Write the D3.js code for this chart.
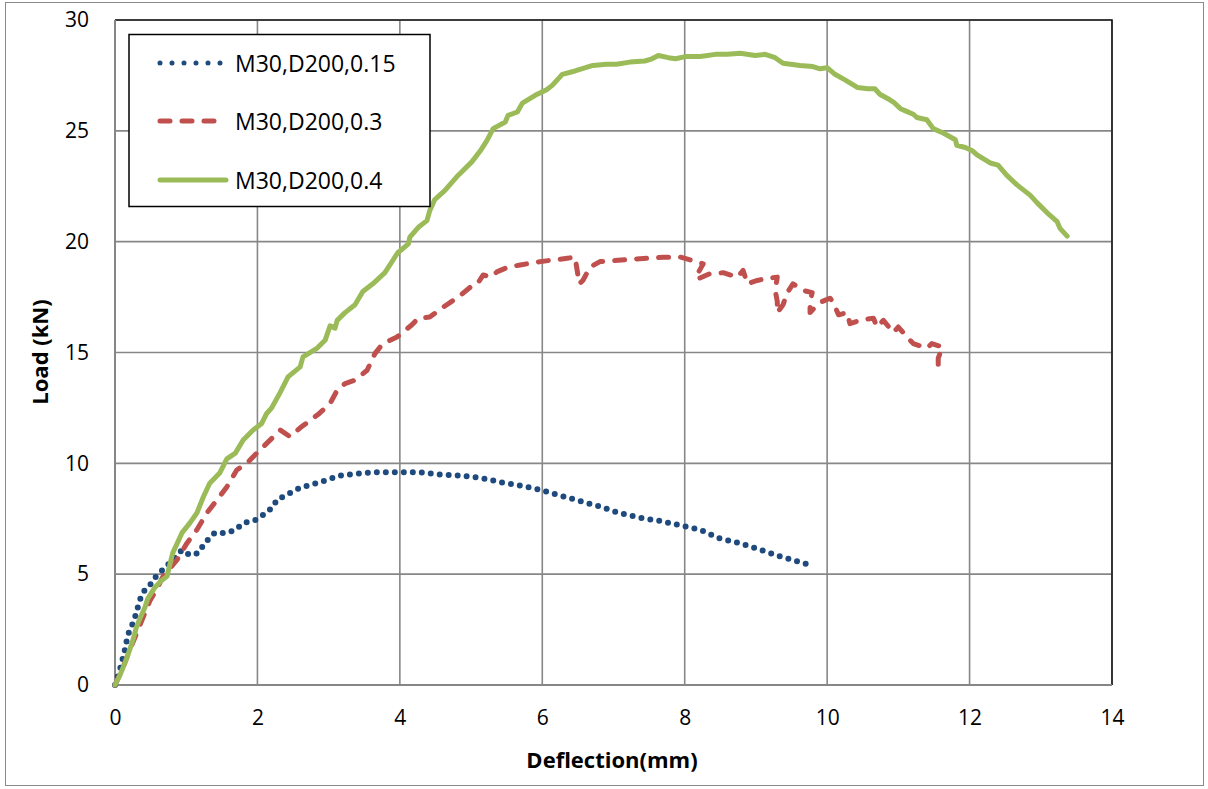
<!DOCTYPE html>
<html><head><meta charset="utf-8">
<script src="https://cdn.jsdelivr.net/npm/d3@7"></script>
<style>body{margin:0;background:#fff;}svg{display:block;font-family:"Open Sans","Liberation Sans",sans-serif;}</style>
</head><body><svg id="c" width="1208" height="789"></svg>
<script>
const seriesNames = ["M30,D200,0.15", "M30,D200,0.3", "M30,D200,0.4"];
const xTicks = [0, 2, 4, 6, 8, 10, 12, 14];
const yTicks = [0, 5, 10, 15, 20, 25, 30];

const s015x = [0,0.07,0.14,0.18,0.24,0.29,0.35,0.42,0.49,0.59,0.67,0.81,0.94,1.05,1.17,1.26,1.4,1.57,1.69,1.8,1.97,2.08,2.22,2.27,2.39,2.6,2.88,3.16,3.44,3.72,4.0,4.28,4.56,4.85,5.13,5.41,5.69,5.97,6.25,6.53,6.81,7.09,7.37,7.65,7.94,8.22,8.5,8.78,9.06,9.34,9.72];
const s015y = [0,0.7,1.6,2.25,2.7,3.15,3.85,4.3,4.5,4.96,5.19,5.64,6.09,5.86,5.95,6.4,6.86,6.86,7.0,7.3,7.44,7.67,8.03,8.34,8.55,8.9,9.15,9.45,9.55,9.6,9.6,9.6,9.5,9.45,9.35,9.15,9.0,8.8,8.55,8.3,8.05,7.75,7.55,7.4,7.2,7.0,6.6,6.4,6.1,5.8,5.45];

const s03x = [0,0.1,0.21,0.35,0.49,0.6,0.67,0.87,1.01,1.15,1.29,1.43,1.57,1.71,1.85,1.99,2.13,2.32,2.46,2.6,2.85,3.02,3.12,3.23,3.37,3.54,3.65,3.76,3.96,4.17,4.26,4.42,4.61,4.82,4.99,5.08,5.17,5.27,5.37,5.52,5.69,5.97,6.35,6.46,6.49,6.52,6.57,6.67,6.81,7.23,7.7,7.94,8.11,8.26,8.19,8.17,8.35,8.54,8.74,8.82,8.88,9.02,9.16,9.3,9.27,9.3,9.3,9.38,9.44,9.52,9.66,9.79,9.76,9.76,9.86,9.93,10.04,10.08,10.16,10.28,10.32,10.46,10.65,10.7,10.79,10.93,11.0,11.12,11.21,11.4,11.47,11.62,11.56,11.56];
const s03y = [0,0.7,1.6,2.7,3.8,4.4,4.87,5.64,6.4,7.0,7.76,8.34,8.93,9.7,10.0,10.46,10.9,11.5,11.2,11.6,12.2,12.7,13.3,13.6,13.75,14.2,14.95,15.4,15.7,16.25,16.55,16.6,17.05,17.5,17.95,18.05,18.5,18.4,18.65,18.85,18.95,19.1,19.25,19.3,18.7,18.1,18.25,18.85,19.1,19.2,19.3,19.3,19.15,19.0,18.6,18.3,18.55,18.6,18.4,18.7,18.1,18.25,18.35,18.4,17.8,17.3,16.8,17.15,17.7,18.1,17.8,17.7,17.3,16.8,17.15,17.3,17.45,17.3,16.7,16.8,16.3,16.45,16.55,16.15,16.45,15.9,16.15,15.7,15.4,15.2,15.4,15.25,14.75,14.1];

const s04x = [0,0.07,0.14,0.18,0.25,0.3,0.35,0.42,0.46,0.56,0.65,0.73,0.81,0.94,1.05,1.15,1.24,1.33,1.47,1.57,1.69,1.8,1.94,2.06,2.13,2.2,2.32,2.43,2.6,2.64,2.84,2.95,3.02,3.09,3.12,3.23,3.37,3.48,3.62,3.79,3.9,3.97,4.12,4.14,4.26,4.38,4.42,4.49,4.63,4.82,5.01,5.13,5.22,5.31,5.48,5.52,5.65,5.72,5.9,6.06,6.14,6.28,6.46,6.71,6.9,7.04,7.23,7.44,7.54,7.63,7.77,7.87,8.01,8.22,8.43,8.6,8.78,8.99,9.13,9.27,9.38,9.62,9.8,9.9,10.0,10.11,10.25,10.43,10.57,10.67,10.74,10.88,10.93,11.03,11.1,11.21,11.26,11.4,11.49,11.63,11.8,11.82,11.94,12.04,12.11,12.29,12.4,12.52,12.67,12.85,12.95,13.09,13.23,13.27,13.37];
const s04y = [0,0.45,1.0,1.35,2.0,2.6,3.0,3.5,3.9,4.4,4.7,4.9,5.95,6.86,7.3,7.76,8.48,9.1,9.56,10.2,10.46,11.05,11.5,11.8,12.25,12.5,13.2,13.9,14.35,14.8,15.2,15.55,16.2,16.1,16.45,16.8,17.15,17.75,18.1,18.6,19.15,19.5,19.9,20.2,20.65,20.95,21.4,21.9,22.3,23.0,23.6,24.1,24.55,25.1,25.4,25.7,25.85,26.25,26.6,26.85,27.05,27.55,27.7,27.95,28.0,28.0,28.1,28.15,28.25,28.4,28.3,28.25,28.35,28.35,28.45,28.45,28.5,28.4,28.45,28.3,28.05,27.95,27.9,27.8,27.85,27.55,27.3,26.95,26.9,26.9,26.65,26.4,26.3,26.0,25.9,25.75,25.6,25.5,25.1,24.9,24.6,24.35,24.25,24.1,23.9,23.55,23.45,23.0,22.55,22.1,21.75,21.3,20.9,20.6,20.25];

const colors = ["#1F4A7E", "#C0504D", "#9BBB59"];
const series = [
  {name: seriesNames[0], xs: s015x, ys: s015y, color: colors[0], dash: "0 9", width: 6},
  {name: seriesNames[1], xs: s03x, ys: s03y, color: colors[1], dash: "10 12", width: 5},
  {name: seriesNames[2], xs: s04x, ys: s04y, color: colors[2], dash: null, width: 5}
];

const svg = d3.select("#c");
const L = 115, R = 1112, T = 20, B = 685;
const x = d3.scaleLinear().domain([0, 14]).range([L, R]);
const y = d3.scaleLinear().domain([0, 30]).range([B, T]);

svg.append("rect").attr("x", 5.5).attr("y", 2.5).attr("width", 1198).attr("height", 783)
  .attr("fill", "#fff").attr("stroke", "#8a8a8a").attr("stroke-width", 1);

const g = svg.append("g");
g.selectAll("line.vx").data(xTicks).join("line")
  .attr("x1", d => x(d)).attr("x2", d => x(d)).attr("y1", T).attr("y2", B)
  .attr("stroke", "#878787").attr("stroke-width", 1.6);
g.selectAll("line.hy").data(yTicks).join("line")
  .attr("y1", d => y(d)).attr("y2", d => y(d)).attr("x1", L).attr("x2", R)
  .attr("stroke", "#878787").attr("stroke-width", 1.6);
svg.append("path").attr("d", `M${L},${T}H${R}V${B}`).attr("fill", "none").attr("stroke", "#1a1a1a").attr("stroke-width", 1.6);
svg.append("path").attr("d", `M${L},${T}V${B}H${R}`).attr("fill", "none").attr("stroke", "#868686").attr("stroke-width", 2);

const xAxis = d3.axisBottom(x).tickValues(xTicks).tickSize(0).tickPadding(25).tickFormat(d3.format("d"));
const yAxis = d3.axisLeft(y).tickValues(yTicks).tickSize(0).tickPadding(26).tickFormat(d3.format("d"));
const xa = svg.append("g").attr("transform", `translate(0,${B})`).call(xAxis);
const ya = svg.append("g").attr("transform", `translate(${L},0)`).call(yAxis);
[xa, ya].forEach(a => {
  a.select(".domain").remove();
  a.selectAll("text").attr("font-size", 21).attr("fill", "#000").attr("font-family", "'Open Sans','Liberation Sans',sans-serif");
});

svg.append("text").attr("x", 612).attr("y", 768).attr("text-anchor", "middle")
  .attr("font-size", 22).attr("font-weight", "bold").text("Deflection(mm)");
svg.append("text").attr("transform", "translate(48,352) rotate(-90)").attr("text-anchor", "middle")
  .attr("font-size", 22).attr("font-weight", "bold").text("Load (kN)");

const line = d3.line().x(d => x(d[0])).y(d => y(d[1]));
series.forEach(s => {
  const pts = s.xs.map((v, i) => [v, s.ys[i]]);
  svg.append("path").datum(pts).attr("d", line).attr("fill", "none")
    .attr("stroke", s.color).attr("stroke-width", s.width)
    .attr("stroke-linecap", "round").attr("stroke-linejoin", "round")
    .attr("stroke-dasharray", s.dash);
});

const lg = svg.append("g");
lg.append("rect").attr("x", 129).attr("y", 34.5).attr("width", 301).attr("height", 172)
  .attr("fill", "#fff").attr("stroke", "#000").attr("stroke-width", 1.5);
const ly = [63, 121, 180];
series.forEach((s, i) => {
  lg.append("line").attr("x1", 160).attr("x2", 226).attr("y1", ly[i]).attr("y2", ly[i])
    .attr("stroke", s.color).attr("stroke-width", s.width === 6 ? 5 : s.width).attr("stroke-linecap", "round")
    .attr("stroke-dasharray", s.dash === "0 9" ? "0 12" : s.dash);
  lg.append("text").attr("x", 235).attr("y", ly[i] + 9).attr("font-size", 23).text(s.name);
});
</script></body></html>
